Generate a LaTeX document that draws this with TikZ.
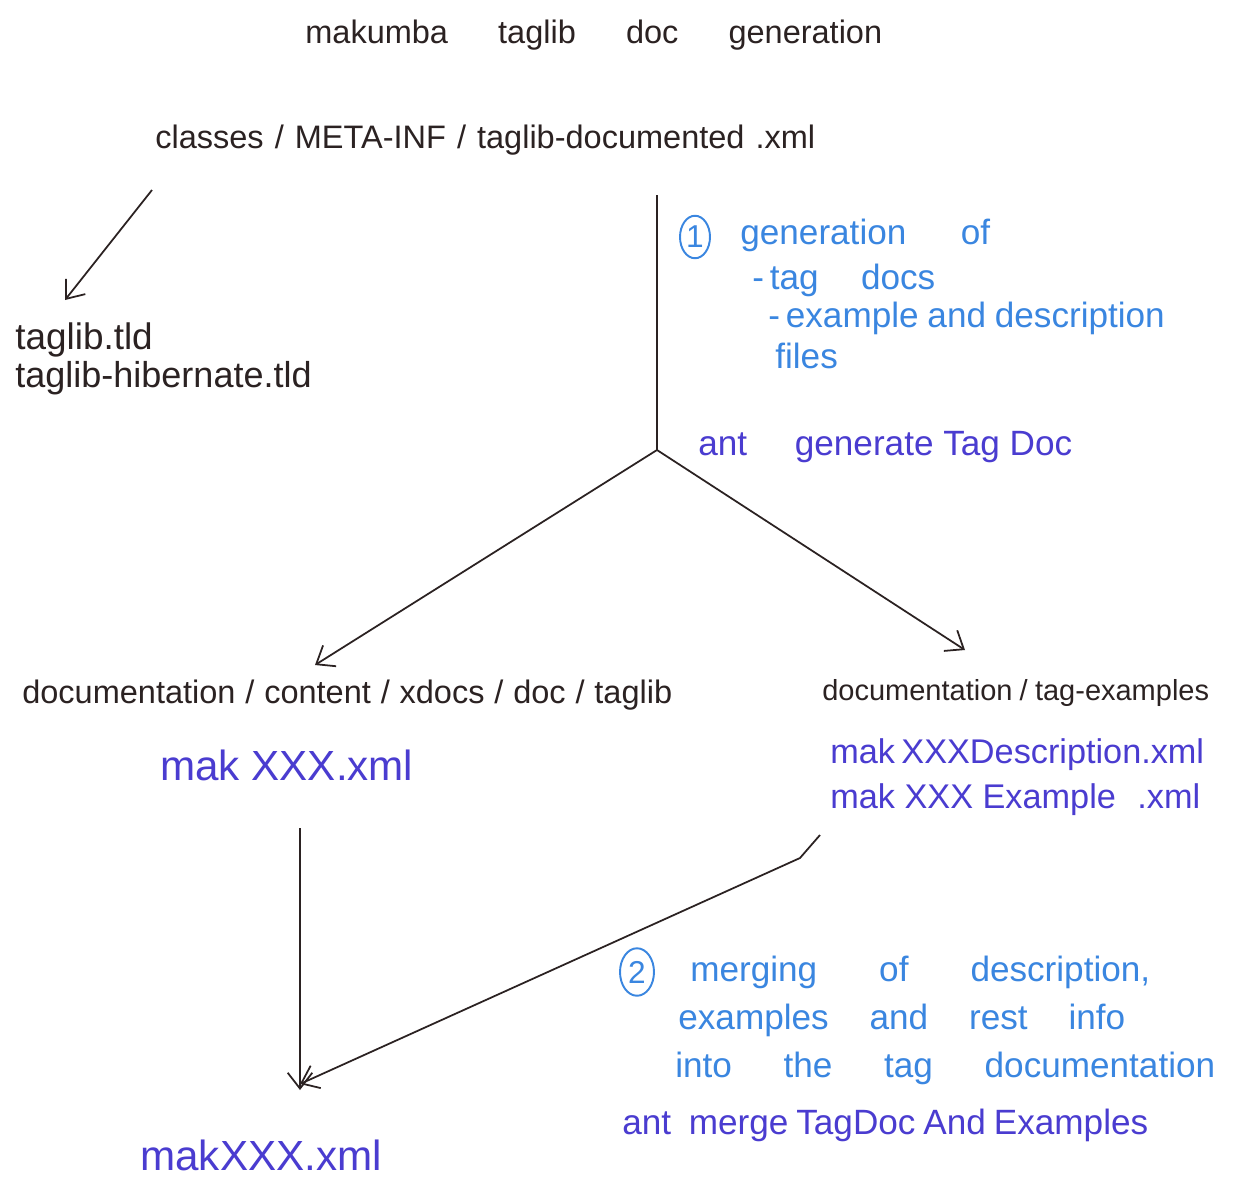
\documentclass[tikz,border=0pt]{standalone}
\usepackage{fontspec}
\setmainfont{Liberation Sans}
\usetikzlibrary{arrows.meta,shapes.geometric}
\definecolor{ink}{HTML}{2B2222}
\definecolor{lblue}{HTML}{3A86E0}
\definecolor{pblue}{HTML}{4A3CD0}
\newcommand{\gp}{\hskip 0.25em plus 1fil\relax}
\newcommand{\sw}[2]{\hbox to #1cm{#2}}
\tikzset{
  txt/.style={inner sep=0pt, anchor=west, text=ink, font=\fontsize{18.5pt}{22pt}\selectfont},
  bluetxt/.style={inner sep=0pt, anchor=west, text=lblue, font=\fontsize{20pt}{24pt}\selectfont},
  anttxt/.style={inner sep=0pt, anchor=west, text=pblue, font=\fontsize{20pt}{24pt}\selectfont},
  bigfile/.style={inner sep=0pt, anchor=west, text=pblue, font=\fontsize{24pt}{28pt}\selectfont},
  smallfile/.style={inner sep=0pt, anchor=west, text=pblue, font=\fontsize{19.5pt}{23pt}\selectfont},
  num/.style={draw=lblue, text=lblue, ellipse, line width=1.1pt, inner sep=0pt, minimum width=0.6cm, minimum height=0.85cm, font=\fontsize{18pt}{20pt}\selectfont},
  conn/.style={draw=ink, line width=1pt},
  arr/.style={conn, -{Straight Barb[length=9pt,width=14pt,line width=1pt]}}
}
\begin{document}
\begin{tikzpicture}[x=0.02cm,y=-0.02cm]
\useasboundingbox (0,0) rectangle (1245,1194);
\fill[white] (0,0) rectangle (1245,1194);
% texts
\node[txt] (title) at (305,35) {\sw{11.54}{makumba\gp taglib\gp doc\gp generation}};
\node[txt] (src) at (155,140) {\sw{13.2}{classes\gp /\gp META-INF\gp /\gp taglib-documented\gp.xml}};
\node[txt, font=\fontsize{21pt}{24pt}\selectfont] (tld1) at (15,340) {taglib.tld};
\node[txt, font=\fontsize{20.5pt}{24pt}\selectfont] (tld2) at (15,378) {taglib-hibernate.tld};
\node[num] (n1) at (695,237) {1};
\node[bluetxt] (g1) at (740,235) {\sw{5.0}{generation\gp of}};
\node[bluetxt] (g2) at (752,280) {\sw{3.66}{-\,tag\gp docs}};
\node[bluetxt] (g3) at (768,318) {\sw{7.84}{-\,example\gp and\gp description}};
\node[bluetxt] (g4) at (775,356) {files};
\node[anttxt] (ant1) at (698,447) {\sw{7.48}{ant\gp\gp generate Tag Doc}};
\node[txt] (docpath) at (22,695) {\sw{13.0}{documentation\gp /\gp content\gp /\gp xdocs\gp /\gp doc\gp /\gp taglib}};
\node[bigfile] (mak1) at (160,765) {mak XXX.xml};
\node[txt, font=\fontsize{16.5pt}{20pt}\selectfont] (expath) at (822,693) {\sw{7.72}{documentation\gp /\gp tag-examples}};
\node[smallfile] (desc) at (830,755) {\sw{7.24}{mak XXXDescription.xml}};
\node[smallfile] (exm) at (830,800) {\sw{7.4}{mak XXX Example\gp .xml}};
\node[num, minimum width=0.68cm, minimum height=0.95cm] (n2) at (637,972) {2};
\node[bluetxt] (m1) at (690,972) {\sw{9.2}{merging\gp of\gp description,}};
\node[bluetxt] (m2) at (678,1020) {\sw{8.94}{examples\gp and\gp rest\gp info}};
\node[bluetxt] (m3) at (675,1068) {\sw{10.8}{into\gp the\gp tag\gp documentation}};
\node[anttxt] (ant2) at (622,1125) {\sw{10.52}{ant\gp\gp merge TagDoc And Examples}};
\node[bigfile] (mak2) at (140,1155) {makXXX.xml};
% connector points
\coordinate (a1) at (152,190);
\coordinate (a2) at (65,300);
\coordinate (v1) at (657,195);
\coordinate (j) at (657,450);
\coordinate (l1) at (315,665);
\coordinate (r1) at (965,650);
\coordinate (d1) at (300,828);
\coordinate (d2) at (300,1090);
\coordinate (e1) at (820,835);
\coordinate (e2) at (800,858);
\coordinate (e3) at (300,1084);
% connectors
\draw[arr] (a1) -- (a2);
\draw[conn] (v1) -- (j);
\draw[arr] (j) -- (l1);
\draw[arr] (j) -- (r1);
\draw[arr] (d1) -- (d2);
\draw[arr] (e1) -- (e2) -- (e3);
\end{tikzpicture}
\end{document}
